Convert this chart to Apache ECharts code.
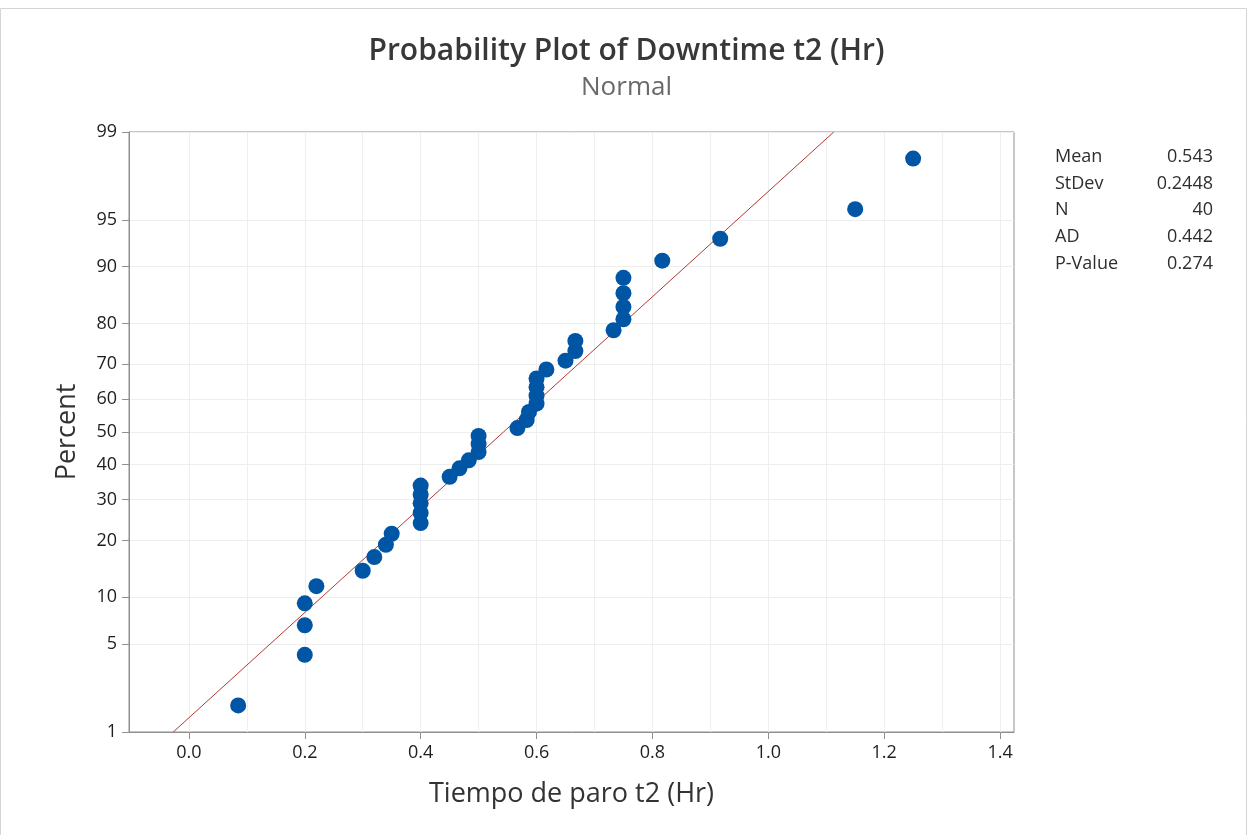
<!DOCTYPE html>
<html>
<head>
<meta charset="utf-8">
<title>Probability Plot of Downtime t2 (Hr)</title>
<script src="https://cdn.jsdelivr.net/npm/echarts@6/dist/echarts.min.js"></script>
<style>
  html, body { margin: 0; padding: 0; background: #fff; }
  #chart { width: 1253px; height: 835px; }
</style>
</head>
<body>
<div id="chart"></div>
<script>
// observed downtimes (hr), sorted
const downtime = [
  0.085, 0.2, 0.2, 0.2, 0.22, 0.3, 0.32, 0.34, 0.35, 0.4,
  0.4, 0.4, 0.4, 0.4, 0.45, 0.467, 0.483, 0.5, 0.5, 0.5,
  0.567, 0.583, 0.587, 0.6, 0.6, 0.6, 0.6, 0.617, 0.65, 0.667,
  0.667, 0.733, 0.75, 0.75, 0.75, 0.75, 0.817, 0.917, 1.15, 1.25
];
// plotted percent for each point
const percent = [
  1.7, 4.2, 6.7, 9.2, 11.6, 14.1, 16.6, 19.1, 21.5, 24.0,
  26.5, 29.0, 31.4, 33.9, 36.4, 38.9, 41.3, 43.8, 46.3, 48.8,
  51.2, 53.7, 56.2, 58.7, 61.1, 63.6, 66.1, 68.6, 71.0, 73.5,
  76.0, 78.5, 80.9, 83.4, 85.9, 88.4, 90.8, 93.3, 95.8, 98.3
];
// fitted normal line end points
const fitX = [-0.027, 1.113];
const fitPct = [1, 99];

const yTicks = [1, 5, 10, 20, 30, 40, 50, 60, 70, 80, 90, 95, 99];
const xTicks = [0, 0.2, 0.4, 0.6, 0.8, 1.0, 1.2, 1.4];
const xGrid = [0, 0.1, 0.2, 0.3, 0.4, 0.5, 0.6, 0.7, 0.8, 0.9, 1.0, 1.1, 1.2, 1.3, 1.4];

const statNames = ['Mean', 'StDev', 'N', 'AD', 'P-Value'];
const statValues = ['0.543', '0.2448', '40', '0.442', '0.274'];

const FONT = 'Open Sans';
const X_MIN = -0.1034, X_MAX = 1.4241;

// inverse normal cdf (Acklam), used as the probability scale
function probit(p) {
  const a = [-39.69683028665376, 220.9460984245205, -275.9285104469687, 138.3577518672690, -30.66479806614716, 2.506628277459239];
  const b = [-54.47609879822406, 161.5858368580409, -155.6989798598866, 66.80131188771972, -13.28068155288572];
  const c = [-0.007784894002430293, -0.3223964580411365, -2.400758277161838, -2.549732539343734, 4.374664141464968, 2.938163982698783];
  const d = [0.007784695709041462, 0.3224671290700398, 2.445134137142996, 3.754408661907416];
  const pl = 0.02425;
  let q, r;
  if (p < pl) {
    q = Math.sqrt(-2 * Math.log(p));
    return (((((c[0]*q+c[1])*q+c[2])*q+c[3])*q+c[4])*q+c[5]) / ((((d[0]*q+d[1])*q+d[2])*q+d[3])*q+1);
  }
  if (p > 1 - pl) {
    q = Math.sqrt(-2 * Math.log(1 - p));
    return -(((((c[0]*q+c[1])*q+c[2])*q+c[3])*q+c[4])*q+c[5]) / ((((d[0]*q+d[1])*q+d[2])*q+d[3])*q+1);
  }
  q = p - 0.5;
  r = q * q;
  return (((((a[0]*r+a[1])*r+a[2])*r+a[3])*r+a[4])*r+a[5])*q / (((((b[0]*r+b[1])*r+b[2])*r+b[3])*r+b[4])*r+1);
}
const z = pct => probit(pct / 100);
const yTickZ = yTicks.map(z);

function yLabel(v) {
  let best = 0;
  yTickZ.forEach((t, i) => { if (Math.abs(t - v) < Math.abs(yTickZ[best] - v)) best = i; });
  return String(yTicks[best]);
}

const chart = echarts.init(document.getElementById('chart'), null, { renderer: 'canvas' });

// stats table to the right of the plot
const statsGraphics = [];
statNames.forEach((name, i) => {
  const y = 157 + i * 26.6;
  statsGraphics.push({
    type: 'text', x: 1055, y: y,
    style: { text: name, font: `18px "${FONT}"`, fill: '#2e2e2e', textAlign: 'left', textVerticalAlign: 'middle' }
  });
  statsGraphics.push({
    type: 'text', x: 1213, y: y,
    style: { text: statValues[i], font: `18px "${FONT}"`, fill: '#2e2e2e', textAlign: 'right', textVerticalAlign: 'middle' }
  });
});

chart.setOption({
  animation: false,
  textStyle: { fontFamily: FONT },
  title: {
    text: 'Probability Plot of Downtime t2 (Hr)',
    subtext: 'Normal',
    left: 'center',
    top: 31,
    itemGap: 9,
    textStyle: { fontSize: 30, fontWeight: 600, color: '#383838', fontFamily: FONT },
    subtextStyle: { fontSize: 26, color: '#696969', fontFamily: FONT }
  },
  grid: {
    left: 129, top: 132, width: 885, height: 600,
    show: true, borderColor: '#8f8f8f', borderWidth: 1
  },
  graphic: [
    {
      type: 'rect', shape: { x: 0.5, y: 8.5, width: 1246, height: 830 },
      style: { fill: 'none', stroke: '#d4d4d4', lineWidth: 1 }, silent: true
    }
  ].concat(statsGraphics),
  xAxis: [
    {
      type: 'value', min: X_MIN, max: X_MAX,
      name: 'Tiempo de paro t2 (Hr)', nameLocation: 'middle', nameGap: 49,
      nameTextStyle: { fontSize: 27, color: '#333' },
      axisLine: { onZero: false, lineStyle: { color: '#8f8f8f' } },
      axisTick: { length: 7, customValues: xTicks, lineStyle: { color: '#8f8f8f' } },
      axisLabel: {
        customValues: xTicks, margin: 12, fontSize: 18, color: '#1e1e1e',
        formatter: v => v.toFixed(1)
      },
      splitLine: { show: false }
    },
    {
      type: 'value', min: X_MIN, max: X_MAX, position: 'bottom',
      axisLine: { show: false },
      axisTick: { show: false, customValues: xGrid },
      axisLabel: { show: false },
      splitLine: { show: true, lineStyle: { color: '#eeeeee', width: 1 } }
    }
  ],
  yAxis: {
    type: 'value', min: z(1), max: z(99),
    name: 'Percent', nameLocation: 'middle', nameGap: 48, nameRotate: 90,
    nameTextStyle: { fontSize: 27, color: '#333' },
    axisLine: { onZero: false, lineStyle: { color: '#8f8f8f' } },
    axisTick: { length: 7, customValues: yTickZ, lineStyle: { color: '#8f8f8f' } },
    axisLabel: {
      customValues: yTickZ, margin: 12, fontSize: 18, color: '#1e1e1e',
      formatter: yLabel
    },
    splitLine: { show: true, lineStyle: { color: '#eeeeee', width: 1 } }
  },
  series: [
    {
      type: 'line',
      data: fitX.map((x, i) => [x, z(fitPct[i])]),
      symbol: 'none',
      lineStyle: { color: '#b03a34', width: 1 },
      z: 2,
      silent: true
    },
    {
      type: 'scatter',
      data: downtime.map((x, i) => [x, z(percent[i])]),
      symbol: 'circle',
      symbolSize: 16,
      itemStyle: { color: '#0055a5', opacity: 1 },
      z: 3
    }
  ]
});
</script>
</body>
</html>
